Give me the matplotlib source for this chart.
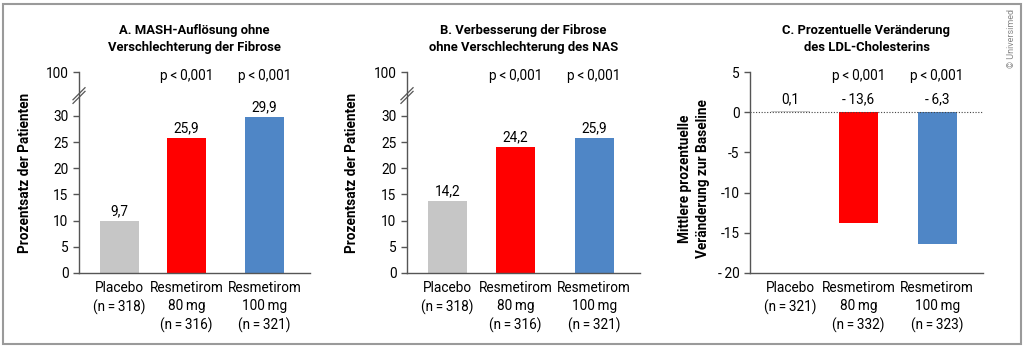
import matplotlib
matplotlib.use("Agg")
from matplotlib import pyplot as plt
from matplotlib.patches import Rectangle
import matplotlib.transforms as mtransforms

plt.rcParams['font.family'] = ['Roboto', 'DejaVu Sans']
plt.rcParams['axes.unicode_minus'] = False

TS = '\u2009'  # thin space

# categories
groups = ['Placebo', 'Resmetirom' + '\n80' + TS + 'mg', 'Resmetirom' + '\n100' + TS + 'mg']
n_a = [318, 316, 321]
n_b = [318, 316, 321]
n_c = [321, 332, 323]

# bar heights as drawn, and the printed value labels
mash_vals = [9.9, 25.8, 29.8]
mash_labels = ['9,7', '25,9', '29,9']
fib_vals = [13.8, 24.1, 25.7]
fib_labels = ['14,2', '24,2', '25,9']
ldl_vals = [0.1, -13.8, -16.4]
ldl_labels = ['0,1', '-' + TS + '13,6', '-' + TS + '6,3']

p_label = 'p' + TS + '<' + TS + '0,001'
colors = ['#c6c6c6', '#ff0000', '#4f86c6']
xpos = [0, 1, 2.163]
bar_w = 0.578
axis_col = '#555555'
FS = 9.8
TFS = 9.4


def cat_labels(ns):
    out = []
    for g, n in zip(groups, ns):
        out.append(g + '\n(n' + TS + '=' + TS + str(n) + ')')
    return out


def base_axes(ax, ns):
    for s in ['top', 'right']:
        ax.spines[s].set_visible(False)
    for s in ['left', 'bottom']:
        ax.spines[s].set_color(axis_col)
        ax.spines[s].set_linewidth(1.0)
    ax.set_xlim(-0.6, 2.84)
    ax.set_xticks(xpos)
    ax.set_xticklabels(cat_labels(ns), fontsize=FS, va='top')
    for lbl in ax.get_xticklabels():
        lbl.set_linespacing(1.35)
    ax.tick_params(axis='x', length=0, pad=6)
    ax.tick_params(axis='y', length=4.5, width=1.0, color=axis_col, labelsize=FS, pad=3)


def pct_panel(ax, title, vals, labels, ns):
    base_axes(ax, ns)
    ax.bar(xpos, vals, width=bar_w, color=colors)
    ax.set_ylim(0, 38.4)
    ax.set_yticks([0, 5, 10, 15, 20, 25, 30, 38.4])
    ax.set_yticklabels(['0', '5', '10', '15', '20', '25', '30', '100'])
    for x, v, t in zip(xpos, vals, labels):
        ax.annotate(t, (x, v), xytext=(0, 2), textcoords='offset points',
                    ha='center', va='bottom', fontsize=FS)
    # axis break marks
    trans = mtransforms.blended_transform_factory(ax.transAxes, ax.transData)
    for dy in [0, 0.7]:
        ax.plot([-0.026, 0.026], [32.4 + dy, 34.7 + dy], color=axis_col, lw=0.9,
                transform=trans, clip_on=False)
    ax.text(-0.234, 0.5, 'Prozentsatz der Patienten', transform=ax.transAxes,
            rotation=90, ha='center', va='center', fontsize=FS, fontweight='bold')
    ax.text(0.5, 1.165, title, transform=ax.transAxes, ha='center', va='center',
            fontsize=TFS, fontweight='bold', linespacing=1.4)
    for x in xpos[1:]:
        ax.text(x, 0.978, p_label, transform=mtransforms.blended_transform_factory(ax.transData, ax.transAxes),
                ha='center', va='center', fontsize=FS)


fig = plt.figure(figsize=(10.24, 3.48), dpi=100)
ax_h = 201 / 348
ax_b = 75 / 348
ax_a = fig.add_axes([79 / 1024, ax_b, 231 / 1024, ax_h])
ax_bb = fig.add_axes([407 / 1024, ax_b, 233 / 1024, ax_h])
ax_c = fig.add_axes([750 / 1024, ax_b, 233 / 1024, ax_h])

pct_panel(ax_a, 'A. MASH-Auflösung ohne\nVerschlechterung der Fibrose', mash_vals, mash_labels, n_a)
pct_panel(ax_bb, 'B. Verbesserung der Fibrose\nohne Verschlechterung des NAS', fib_vals, fib_labels, n_b)

# panel C
base_axes(ax_c, n_c)
ax_c.bar(xpos, ldl_vals, width=bar_w, color=colors)
ax_c.set_ylim(-20, 5)
ax_c.set_yticks([-20, -15, -10, -5, 0, 5])
ax_c.set_yticklabels(['-' + TS + '20', '-15', '-10', '-5', '0', '5'])
ax_c.axhline(0, color='#444444', lw=0.8, ls=(0, (1, 1.5)))
for x, t in zip(xpos, ldl_labels):
    ax_c.annotate(t, (x, 0), xytext=(0, 4), textcoords='offset points',
                  ha='center', va='bottom', fontsize=FS)
ax_c.text(-0.24, 0.47, 'Mittlere prozentuelle\nVeränderung zur Baseline', transform=ax_c.transAxes,
          rotation=90, ha='center', va='center', fontsize=FS, fontweight='bold', linespacing=1.35)
ax_c.text(0.5, 1.165, 'C. Prozentuelle Veränderung\ndes LDL-Cholesterins', transform=ax_c.transAxes,
          ha='center', va='center', fontsize=TFS, fontweight='bold', linespacing=1.4)
for x in xpos[1:]:
    ax_c.text(x, 0.978, p_label, transform=mtransforms.blended_transform_factory(ax_c.transData, ax_c.transAxes),
              ha='center', va='center', fontsize=FS)

fig.text(1012 / 1024, 1 - 38 / 348, '© Universimed', rotation=90, ha='center', va='center',
         fontsize=6.5, color='#888888')

fig.patches.append(Rectangle((3 / 1024, 4 / 348), 1018 / 1024, 340 / 348, transform=fig.transFigure,
                             fill=False, edgecolor='#9a9a9a', lw=1.5))

fig.savefig('out.png', dpi=100)
